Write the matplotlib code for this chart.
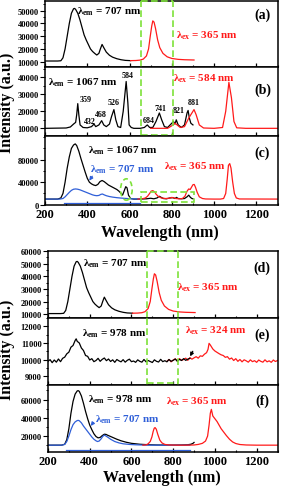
import matplotlib
matplotlib.use('Agg')
import matplotlib.pyplot as plt
from matplotlib.patches import Ellipse, Rectangle
from matplotlib.ticker import MultipleLocator

plt.rcParams['font.family'] = ['Liberation Serif', 'DejaVu Serif']
plt.rcParams['font.weight'] = 'bold'
plt.rcParams['mathtext.fontset'] = 'custom'
plt.rcParams['mathtext.rm'] = 'Liberation Serif:bold'
plt.rcParams['mathtext.it'] = 'Liberation Serif:bold'
plt.rcParams['mathtext.bf'] = 'Liberation Serif:bold'

# ---------------- data ----------------
# (a)/(d): excitation (lambda_em = 707 nm) and emission (lambda_ex = 365 nm)
ex707_x = [200, 260, 275, 285, 295, 305, 315, 325, 335, 340, 345, 355, 365, 375, 385, 395, 405, 415,
           425, 435, 445, 455, 462, 470, 478, 490, 505, 520, 540, 560, 580, 605]
ex707_y = [10500, 10500, 10700, 13000, 20000, 30000, 40000, 48000, 51500, 51800, 51000, 48000, 43000,
           37000, 31000, 27000, 23500, 20000, 18000, 16500, 15200, 16500, 20000, 23500, 21000, 17500,
           15000, 13500, 12300, 11500, 11000, 10800]
em365_x = [605, 630, 650, 665, 680, 690, 698, 705, 710, 716, 723, 733, 743, 758, 778, 800, 830, 860, 905]
em365_y = [10800, 10900, 11200, 12000, 14500, 20000, 30000, 38000, 42000, 41000, 36000, 27000, 21000,
           16500, 13800, 12500, 11800, 11500, 11300]

# (b): excitation (lambda_em = 1067 nm) and emission (lambda_ex = 584 nm)
ex1067b_x = [200, 300, 320, 335, 345, 350, 355, 360, 366, 380, 400, 420, 432, 440, 455, 468, 478, 490,
             505, 515, 526, 535, 545, 558, 570, 584, 592, 598, 608, 620, 650, 670, 684, 695, 710, 725,
             741, 752, 765, 780, 800, 808, 815, 821, 830, 845, 860, 872, 877, 883, 890, 900]
ex1067b_y = [10000, 10200, 10800, 12500, 13500, 18000, 24500, 18000, 12000, 10500, 10300, 11000, 12500,
             11000, 12000, 14500, 12000, 11000, 12500, 17000, 21000, 15000, 11000, 10500, 20000, 37500,
             25000, 12000, 10500, 10000, 10000, 10500, 12000, 10500, 10500, 14000, 19000, 15000, 11000,
             10500, 13000, 14000, 12500, 15000, 12000, 10500, 12000, 19000, 20500, 16000, 13000, 12000]
em584_x = [700, 780, 800, 815, 825, 840, 860, 880, 895, 905, 915, 930, 950, 1000, 1040, 1055, 1070,
           1082, 1094, 1107, 1150, 1300]
em584_y = [10000, 10000, 11500, 13000, 12000, 10500, 11000, 16000, 19000, 21000, 18000, 12000, 10200,
           10000, 10500, 20000, 37000, 28000, 14000, 10300, 10000, 10000]
peak_labels = ['359', '432', '468', '526', '584', '684', '741', '821', '881']
peak_lab_x = [390, 414, 462, 524, 590, 689, 748, 835, 903]
peak_lab_y = [27500, 14400, 18400, 25200, 41200, 14900, 21700, 20700, 25600]

# (c): excitation 1067 (black), excitation 707 (blue), emission 365 (red)
ex1067c_x = [200, 260, 275, 285, 295, 305, 315, 325, 335, 343, 350, 360, 370, 380, 390, 400, 410, 420,
             430, 440, 450, 460, 470, 480, 490, 500, 510, 520, 530, 540, 550, 560, 567, 575, 582, 588,
             595, 605, 620, 650, 680, 700, 715, 730, 741, 750, 760, 775, 790, 805, 815, 822, 830, 845,
             860, 872, 880, 888, 895, 900]
ex1067c_y = [10000, 10000, 12000, 20000, 40000, 65000, 85000, 100000, 106000, 108000, 105000, 95000,
             82000, 70000, 58000, 47000, 40000, 37000, 35000, 34000, 36000, 41000, 43000, 41000, 38000,
             35000, 33000, 31000, 29000, 27000, 24000, 20000, 17000, 25000, 32000, 30000, 17000, 11000,
             10000, 10000, 10500, 11500, 10500, 12000, 15000, 13000, 11000, 10500, 12000, 12500, 11000,
             13000, 11000, 10500, 11000, 14000, 17000, 13000, 11000, 10500]
ex707c_x = [200, 270, 285, 295, 305, 315, 325, 335, 345, 355, 365, 375, 385, 395, 405, 415, 425, 435,
            445, 455, 465, 472, 480, 490, 505, 520, 540, 560, 580, 600, 630, 660]
ex707c_y = [10000, 10000, 11000, 14000, 18000, 22000, 25500, 27500, 28000, 27500, 26500, 25000, 23500,
            22000, 20500, 19000, 17500, 16500, 16000, 16500, 18500, 19000, 17500, 16000, 14500, 13500,
            12500, 11800, 11200, 10700, 10300, 10200]
ex707c_floor_x = [290, 650]
ex707c_floor_y = [3500, 3500]
em365c_x = [640, 660, 675, 685, 695, 702, 710, 718, 725, 735, 750, 770, 790, 800, 810, 820, 835, 850,
            862, 872, 880, 887, 893, 900, 906, 912, 920, 930, 945, 960, 1000, 1030, 1045, 1055, 1062,
            1068, 1074, 1080, 1088, 1096, 1105, 1120, 1300]
em365c_y = [10000, 10500, 12000, 15000, 20000, 24000, 25000, 23000, 19000, 15000, 12000, 11000, 11500,
            13000, 12000, 11000, 10500, 11000, 15000, 24000, 28000, 27000, 31000, 35500, 36000, 31000,
            22000, 14000, 11000, 10200, 10000, 10000, 11000, 20000, 45000, 70000, 73000, 65000, 40000,
            20000, 12000, 10200, 10000]

# (e): excitation (lambda_em = 978 nm) and emission (lambda_ex = 324 nm), noisy
ex978e_x = [200, 210, 220, 230, 240, 250, 260, 270, 280, 290, 300, 310, 320, 330, 335, 340, 350, 360,
            370, 380, 390, 400, 410, 420, 430, 440, 450, 460, 470, 480, 490, 500, 510, 520, 530, 540,
            550, 560, 570, 580, 590, 600, 610, 620, 630, 640, 650, 660, 670, 680, 690, 700, 710, 720,
            730, 740, 750, 760, 770, 780, 790, 800, 810, 820, 830, 840, 850, 860, 870, 880]
ex978e_y = [9900, 10000, 9820, 9980, 9850, 10040, 9880, 10080, 10150, 10350, 10450, 10750, 10850, 11150,
            11250, 11100, 11000, 10700, 10550, 10250, 10200,
            9980, 10060, 9880, 9950, 10080, 9900, 10020, 10100, 9940, 10040, 9890, 9990, 9840, 10010,
            9930, 9870, 10000, 9850, 9960, 10030, 9880, 9920, 9840, 9990, 9900, 9850, 10010, 9870,
            9950, 9890, 9830, 9990, 9900, 9860, 10020, 9880, 9940, 9870, 10010, 9900, 9960, 10040,
            9900, 10020, 9950, 10060, 9960, 10030, 10080]
em324e_x = [770, 780, 790, 800, 810, 820, 830, 840, 850, 860, 870, 880, 890, 900, 910, 920, 930, 940,
            950, 960, 967, 972, 978, 984, 990, 1000, 1010, 1020, 1030, 1040, 1050, 1060, 1070, 1080,
            1090, 1100, 1110, 1120, 1130, 1140, 1150, 1160, 1170, 1180, 1190, 1200, 1210, 1220, 1230,
            1240, 1250, 1260, 1270, 1280, 1290, 1300]
em324e_y = [9900, 10010, 9870, 9980, 10050, 9920, 10060, 9960, 10010, 10090, 9960, 10120, 10030, 10110,
            10180, 10090, 10230, 10200, 10330, 10420, 10620, 10980, 10880, 10760, 10640, 10520, 10440,
            10360, 10290, 10250, 10140, 10180, 10030, 10100, 9950, 10060, 9900, 10010, 9870, 9990,
            9930, 9850, 9990, 9880, 9940, 9840, 9980, 9900, 9850, 9990, 9870, 9930, 9840, 9980, 9890,
            9950]

# (f): excitation 978 (black), excitation 707 (blue), emission 365 (red)
ex978f_x = [200, 265, 280, 290, 300, 310, 320, 330, 340, 345, 350, 360, 370, 380, 390, 400, 410, 420,
            430, 440, 450, 460, 470, 478, 485, 495, 510, 530, 550, 575, 600, 640, 680, 720, 760, 800,
            840, 870, 885, 895, 900]
ex978f_y = [10000, 10000, 11000, 16000, 28000, 45000, 58000, 66000, 69500, 69800, 69000, 64000, 56000,
            47000, 39000, 32000, 27000, 22500, 19500, 18000, 18500, 20500, 22000, 21800, 21000, 20000,
            18500, 16500, 14800, 13200, 12000, 11000, 10500, 10200, 10100, 10100, 10200, 10500, 11000,
            12000, 13000]
ex707f_x = [200, 265, 280, 290, 300, 310, 320, 330, 340, 345, 350, 360, 370, 380, 390, 400, 410, 420,
            430, 437, 445, 455, 462, 470, 478, 488, 500, 520, 540, 560, 590, 620, 660, 700, 760, 820, 880]
ex707f_y = [10000, 10000, 10800, 14000, 20000, 27000, 32500, 35500, 37000, 37200, 36800, 34500, 31000,
            28000, 25000, 22000, 19000, 16500, 14800, 14000, 14500, 17000, 19500, 21000, 20000, 18500,
            16500, 14000, 12500, 11500, 10800, 10400, 10100, 10000, 10000, 10000, 10000]
ex707f_floor_x = [285, 880]
ex707f_floor_y = [4500, 4500]
em365f_x = [655, 670, 680, 690, 698, 704, 709, 713, 719, 726, 736, 746, 760, 780, 820, 860, 900, 920,
            940, 955, 965, 972, 978, 983, 990, 1000, 1010, 1020, 1030, 1040, 1055, 1070, 1085, 1100,
            1120, 1150, 1200, 1300]
em365f_y = [10000, 10300, 11500, 14000, 19000, 25000, 28500, 29300, 27500, 22000, 15500, 12500, 10800,
            10200, 10000, 10000, 10200, 10800, 12000, 14500, 20000, 32000, 45000, 49300, 42000, 39000,
            36000, 32000, 28000, 25000, 20500, 16500, 13500, 11800, 10700, 10200, 10000, 10000]

# ---------------- layout ----------------
W, H = 281, 489
fig = plt.figure(figsize=(W / 100, H / 100), dpi=100)


def add_ax(l, r, t, b):
    return fig.add_axes([l / W, 1 - b / H, (r - l) / W, (b - t) / H])


axa = add_ax(45, 277.5, 1.5, 68)
axb = add_ax(45, 277.5, 68, 137)
axc = add_ax(45, 277.5, 137, 206)
axd = add_ax(48, 277.5, 252, 319)
axe = add_ax(48, 277.5, 319, 386)
axf = add_ax(48, 277.5, 386, 453)

BLUE = '#2f5fd8'
RED = '#ff1a1a'
GREEN = '#7ee23a'
LW = 0.9

for ax in [axa, axb, axc, axd, axe, axf]:
    ax.set_xlim(200, 1300)
    ax.xaxis.set_major_locator(MultipleLocator(200))
    ax.xaxis.set_minor_locator(MultipleLocator(100))
    for s in ax.spines.values():
        s.set_linewidth(1.1)
    ax.tick_params(axis='x', which='major', direction='in', length=3, width=0.9, labelsize=9, pad=2.5)
    ax.tick_params(axis='x', which='minor', direction='in', length=1.8, width=0.8)
    ax.tick_params(axis='y', which='major', direction='out', length=3.5, width=0.8, labelsize=6, pad=1)
    ax.tick_params(axis='y', which='minor', direction='out', length=1.8, width=0.7)
    for lab in ax.get_yticklabels() + ax.get_xticklabels():
        lab.set_fontweight('bold')

for ax in [axa, axb, axd, axe]:
    ax.tick_params(axis='x', labelbottom=False)

# (a)
axa.plot(ex707_x, ex707_y, color='black', lw=LW)
axa.plot(em365_x, em365_y, color=RED, lw=LW)
axa.set_ylim(5800, 58000)
axa.set_yticks([10000, 20000, 30000, 40000, 50000])
axa.yaxis.set_minor_locator(MultipleLocator(5000))

# (b)
axb.plot(ex1067b_x, ex1067b_y, color='black', lw=LW)
axb.plot(em584_x, em584_y, color=RED, lw=LW)
axb.set_ylim(5500, 46000)
axb.set_yticks([10000, 20000, 30000, 40000])
axb.yaxis.set_minor_locator(MultipleLocator(5000))
for t, px, py in zip(peak_labels, peak_lab_x, peak_lab_y):
    axb.text(px, py, t, fontsize=5.8, fontweight='bold', ha='center', va='center')

# (c)
axc.plot(ex707c_floor_x, ex707c_floor_y, color=BLUE, lw=LW)
axc.plot(ex1067c_x, ex1067c_y, color='black', lw=LW)
axc.plot(ex707c_x, ex707c_y, color=BLUE, lw=LW)
axc.plot(em365c_x, em365c_y, color=RED, lw=LW)
axc.set_ylim(-500, 122000)
axc.set_yticks([0, 40000, 80000])
axc.yaxis.set_minor_locator(MultipleLocator(20000))

# (d)
axd.plot(ex707_x, ex707_y, color='black', lw=LW)
axd.plot(em365_x, em365_y, color=RED, lw=LW)
axd.set_ylim(7000, 60000)
axd.set_yticks([10000, 20000, 30000, 40000, 50000, 60000])
axd.yaxis.set_minor_locator(MultipleLocator(5000))

# (e)
axe.plot(em324e_x, em324e_y, color=RED, lw=LW)
axe.plot(ex978e_x, ex978e_y, color='black', lw=LW)
axe.set_ylim(8480, 12500)
axe.set_yticks([9000, 10000, 11000, 12000])
axe.yaxis.set_minor_locator(MultipleLocator(500))

# (f)
axf.plot(ex707f_floor_x, ex707f_floor_y, color=BLUE, lw=LW)
axf.plot(ex978f_x, ex978f_y, color='black', lw=LW)
axf.plot(ex707f_x, ex707f_y, color=BLUE, lw=LW)
axf.plot(em365f_x, em365f_y, color=RED, lw=LW)
axf.set_ylim(2500, 76000)
axf.set_yticks([20000, 40000, 60000])
axf.yaxis.set_minor_locator(MultipleLocator(10000))

# ---------------- labels ----------------
LF = 8


def lab(ax, x, y, s, c='black', size=LF, ha='left'):
    ax.text(x, y, s, transform=ax.transAxes, color=c, fontsize=size, fontweight='bold',
            ha=ha, va='center')


em = r'$\lambda_{em}$'
ex = r'$\lambda_{ex}$'
lab(axa, 0.139, 0.84, em + ' = 707 nm')
lab(axa, 0.563, 0.49, ex + ' = 365 nm', RED)
lab(axa, 0.935, 0.79, '(a)', size=10, ha='center')

lab(axb, 0.012, 0.79, em + ' = 1067 nm')
lab(axb, 0.55, 0.85, ex + ' = 584 nm', RED)
lab(axb, 0.935, 0.68, '(b)', size=10, ha='center')

lab(axc, 0.187, 0.80, em + ' = 1067 nm')
lab(axc, 0.194, 0.53, em + ' = 707 nm', BLUE)
lab(axc, 0.51, 0.57, ex + ' = 365 nm', RED)
lab(axc, 0.935, 0.76, '(c)', size=10, ha='center')

lab(axd, 0.152, 0.83, em + ' = 707 nm')
lab(axd, 0.562, 0.46, ex + ' = 365 nm', RED)
lab(axd, 0.934, 0.76, '(d)', size=10, ha='center')

lab(axe, 0.147, 0.78, em + ' = 978 nm')
lab(axe, 0.598, 0.82, ex + ' = 324 nm', RED)
lab(axe, 0.934, 0.76, '(e)', size=10, ha='center')

lab(axf, 0.176, 0.80, em + ' = 978 nm')
lab(axf, 0.514, 0.77, ex + ' = 365 nm', RED)
lab(axf, 0.205, 0.50, em + ' = 707 nm', BLUE)
lab(axf, 0.934, 0.77, '(f)', size=10, ha='center')

# arrows
axc.annotate('', xy=(402, 38600), xytext=(431, 54600),
             arrowprops=dict(arrowstyle='-|>', color=BLUE, lw=0.9, mutation_scale=5))
axf.annotate('', xy=(397, 28600), xytext=(425, 37300),
             arrowprops=dict(arrowstyle='-|>', color=BLUE, lw=0.9, mutation_scale=5))
axe.annotate('', xy=(875, 10050), xytext=(900, 10650),
             arrowprops=dict(arrowstyle='-|>', color='black', lw=0.9, mutation_scale=5))

# green dashed highlight boxes
gkw = dict(color=GREEN, lw=1.2, ls=(0, (4, 2)), clip_on=False, zorder=5)
for ax in (axa, axb):
    ax.axvline(652, **gkw)
    ax.axvline(805, **gkw)
axa.plot([652, 805], [1, 1], transform=axa.get_xaxis_transform(), **gkw)
axb.plot([652, 805], [0.015, 0.015], transform=axb.get_xaxis_transform(), **gkw)
for ax in (axd, axe):
    ax.axvline(673, **gkw)
    ax.axvline(824, **gkw)
axd.plot([673, 824], [1, 1], transform=axd.get_xaxis_transform(), **gkw)
axe.plot([673, 824], [0.035, 0.035], transform=axe.get_xaxis_transform(), **gkw)

axc.add_patch(Rectangle((655, 5000), 250, 17500, fill=False, edgecolor=GREEN, lw=1.2,
                        ls=(0, (4, 2)), zorder=5))
axc.add_patch(Ellipse((585, 27000), 55, 38000, fill=False, edgecolor=GREEN, lw=1.2,
                      ls=(0, (3, 2)), zorder=5))

# axis titles
fig.text(160 / W, 1 - 233 / H, 'Wavelength (nm)', ha='center', va='center', fontsize=11.5,
         fontweight='bold')
fig.text(162 / W, 1 - 478 / H, 'Wavelength (nm)', ha='center', va='center', fontsize=11.5,
         fontweight='bold')
fig.text(7 / W, 1 - 103 / H, 'Intensity (a.u.)', ha='center', va='center', rotation=90,
         fontsize=11.5, fontweight='bold')
fig.text(7 / W, 1 - 350 / H, 'Intensity (a.u.)', ha='center', va='center', rotation=90,
         fontsize=11.5, fontweight='bold')

fig.savefig('out.png', dpi=100)
